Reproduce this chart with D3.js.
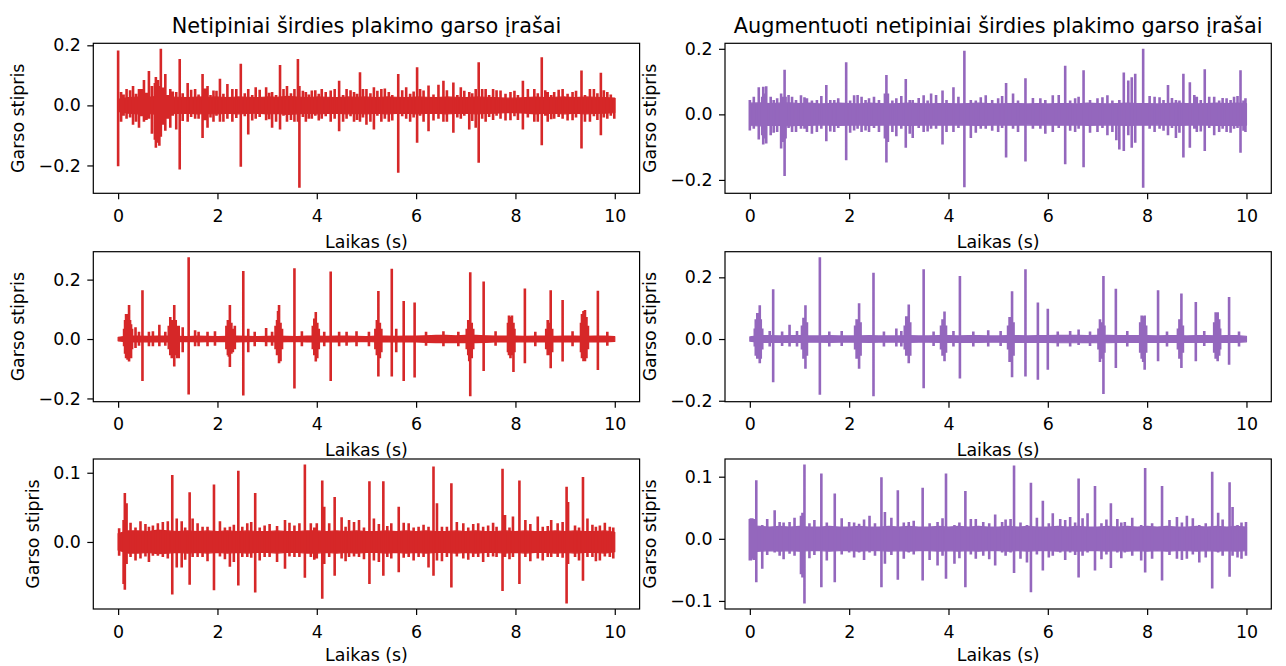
<!DOCTYPE html>
<html>
<head>
<meta charset="utf-8">
<script src="https://cdn.jsdelivr.net/npm/d3@7"></script>
<style>
  body { margin: 0; background: #fff; }
  svg { display: block; }
  text { font-family: "DejaVu Sans", sans-serif; fill: #000; }
</style>
</head>
<body>
<svg id="fig" width="1286" height="666"></svg>
<script>
// ---- Titles, labels, ticks ----
const titleLeft = "Netipiniai širdies plakimo garso įrašai";
const titleRight = "Augmentuoti netipiniai širdies plakimo garso įrašai";
const xLabel = "Laikas (s)";
const yLabel = "Garso stipris";
const xTicks = [0, 2, 4, 6, 8, 10];
const yTicksA = [-0.2, 0.0, 0.2];
const yTicksB = [-0.2, 0.0, 0.2];
const yTicksC = [-0.2, 0.0, 0.2];
const yTicksD = [-0.2, 0.0, 0.2];
const yTicksE = [0.0, 0.1];
const yTicksF = [-0.1, 0.0, 0.1];

// ---- Background noise envelope (amplitude every 0.2 s, 0..10 s) ----
const bandStep = 0.2;
const bandA = [.02,.026,.028,.027,.03,.028,.027,.026,.028,.027, .028,.026,.028,.027,.026,.028,.027,.03,.028,.026,
  .028,.027,.026,.028,.027,.028,.026,.028,.027,.026, .028,.027,.026,.028,.027,.026,.028,.027,.026,.024,
  .024,.026,.028,.026,.027,.028,.026,.028,.027,.026, .024];
const bandB = [.034,.035,.033,.034,.035,.033,.034,.032,.033,.034, .033,.032,.034,.033,.032,.033,.034,.033,.032,.033,
  .033,.032,.033,.034,.033,.032,.033,.033,.032,.033, .032,.033,.033,.032,.034,.033,.032,.033,.034,.033,
  .033,.032,.033,.034,.033,.032,.033,.034,.033,.034, .033];
const bandC = [.006,.01,.01,.009,.01,.01,.009,.008,.01,.009, .008,.009,.01,.009,.008,.009,.01,.009,.008,.01,
  .01,.009,.01,.01,.009,.008,.01,.01,.009,.01, .01,.011,.012,.012,.011,.012,.012,.011,.01,.01,
  .01,.009,.01,.01,.009,.01,.01,.009,.01,.01, .008];
const bandD = [.007,.011,.011,.01,.011,.011,.01,.01,.011,.01, .01,.01,.011,.01,.01,.01,.011,.01,.01,.011,
  .011,.01,.011,.011,.01,.01,.011,.011,.01,.011, .011,.012,.012,.012,.011,.012,.012,.011,.011,.011,
  .011,.01,.011,.011,.01,.011,.011,.01,.011,.011, .009];
const bandE = [.012,.016,.016,.015,.017,.016,.015,.016,.015,.016, .015,.016,.015,.016,.015,.015,.016,.015,.015,.016,
  .016,.015,.016,.015,.016,.015,.015,.016,.015,.016, .015,.016,.015,.015,.016,.015,.016,.015,.015,.016,
  .015,.016,.015,.015,.016,.015,.016,.015,.015,.016, .014];
const bandF = [.021,.02,.019,.02,.019,.02,.019,.019,.02,.019, .019,.02,.019,.019,.02,.019,.02,.019,.019,.02,
  .019,.02,.019,.02,.019,.019,.02,.019,.02,.019, .019,.02,.019,.02,.019,.019,.02,.019,.02,.019,
  .02,.019,.02,.019,.019,.02,.019,.02,.019,.02, .019];

// ---- Peaks: [time (s), max, min] ----
const spikesA = [
  [0,.178,-.198],[0.06,.04,-.05],[0.17,.05,-.04],[0.30,.06,-.06],[0.42,.05,-.07],[0.52,.08,-.05],
  [0.62,.11,-.04],[0.68,.06,-.09],[0.74,.07,-.11],[0.76,.09,-.137],[0.78,.06,-.12],[0.80,.08,-.09],
  [0.83,.06,-.13],[0.86,.184,-.10],[0.95,.10,-.08],[1.05,.05,-.07],[1.17,.04,-.076],
  [1.24,.15,-.209],[1.40,.07,-.05],[1.55,.05,-.04],[1.70,.10,-.104],[1.80,.06,-.07],[1.92,.045,-.05],
  [2.05,.084,-.05],[2.20,.067,-.04],[2.30,.05,-.05],[2.47,.134,-.20],[2.62,.05,-.093],[2.77,.056,-.04],
  [2.98,.056,-.045],[3.10,.04,-.07],[3.26,.13,-.076],[3.40,.06,-.05],[3.55,.05,-.05],[3.62,.15,-.05],
  [3.65,.06,-.27],[3.78,.04,-.05],[3.90,.045,-.04],[4.10,.05,-.04],[4.28,.045,-.05],[4.45,.078,-.082],
  [4.60,.05,-.04],[4.75,.04,-.05],[4.87,.106,-.05],[5.00,.05,-.06],[5.15,.056,-.076],[5.30,.05,-.05],
  [5.45,.04,-.05],[5.64,.10,-.22],[5.80,.056,-.04],[6.02,.123,-.12],[6.15,.045,-.05],[6.25,.062,-.082],
  [6.45,.064,-.04],[6.55,.078,-.05],[6.75,.072,-.087],[6.90,.056,-.04],[7.07,.04,-.076],[7.20,.05,-.07],
  [7.26,.139,-.187],[7.40,.05,-.05],[7.55,.05,-.044],[7.70,.045,-.04],[7.90,.04,-.045],[8.15,.078,-.076],
  [8.38,.05,-.05],[8.53,.156,-.128],[8.65,.04,-.05],[8.78,.04,-.04],[8.95,.05,-.04],[9.15,.04,-.045],
  [9.33,.112,-.139],[9.50,.05,-.05],[9.72,.104,-.095],[9.85,.04,-.04],[9.99,.02,-.04],
  [0.11,.032,-.03],[0.24,.046,-.036],[0.36,.034,-.05],[0.47,.05,-.032],[0.57,.038,-.044],[0.90,.055,-.06],
  [1.00,.03,-.04],[1.10,.042,-.03],[1.30,.036,-.048],[1.47,.048,-.034],[1.62,.032,-.04],[1.75,.052,-.045],
  [1.86,.03,-.036],[1.98,.044,-.03],[2.12,.034,-.05],[2.38,.05,-.038],[2.55,.036,-.032],[2.70,.03,-.046],
  [2.85,.048,-.034],[3.04,.038,-.042],[3.18,.03,-.05],[3.33,.05,-.03],[3.48,.036,-.044],[3.72,.044,-.034],
  [3.84,.032,-.04],[3.97,.046,-.03],[4.04,.034,-.046],[4.18,.04,-.032],[4.36,.05,-.04],[4.53,.03,-.05],
  [4.68,.046,-.032],[4.81,.034,-.044],[4.93,.05,-.036],[5.08,.036,-.05],[5.22,.044,-.03],[5.37,.052,-.04],
  [5.52,.03,-.046],[5.72,.046,-.032],[5.88,.034,-.05],[5.95,.042,-.036],[6.08,.05,-.03],[6.35,.032,-.046],
  [6.62,.046,-.05],[6.83,.03,-.036],[6.97,.044,-.03],[7.13,.036,-.048],[7.33,.05,-.04],[7.47,.03,-.034],
  [7.62,.046,-.03],[7.80,.034,-.046],[7.98,.044,-.032],[8.05,.03,-.044],[8.25,.05,-.036],[8.45,.036,-.05],
  [8.60,.046,-.03],[8.72,.03,-.042],[8.87,.048,-.034],[9.05,.034,-.046],[9.22,.044,-.036],[9.40,.03,-.05],
  [9.58,.05,-.032],[9.65,.036,-.044],[9.78,.046,-.036],[9.92,.032,-.03]
];
const spikesB = [
  [0.0,.04,-.045],[0.18,.079,-.073],[0.25,.05,-.06],[0.27,.08,-.088],[0.30,.06,-.07],[0.33,.082,-.085],
  [0.42,.05,-.06],[0.55,.045,-.05],[0.63,.06,-.10],[0.66,.05,-.08],[0.70,.132,-.184],[0.72,.05,-.07],
  [0.85,.05,-.05],[1.03,.054,-.04],[1.15,.045,-.05],[1.35,.04,-.05],
  [1.54,.086,-.078],[1.70,.04,-.05],[1.94,.155,-.136],[2.10,.054,-.045],[2.25,.05,-.05],[2.40,.045,-.05],
  [2.60,.04,-.05],[2.72,.06,-.07],[2.75,.116,-.143],[2.78,.06,-.08],[2.95,.045,-.063],[3.14,.104,-.098],
  [3.28,.04,-.068],[3.50,.054,-.05],
  [3.65,.06,-.04],[3.88,.069,-.088],[4.10,.079,-.05],[4.32,.19,-.218],[4.45,.04,-.068],[4.75,.054,-.04],
  [5.00,.045,-.05],[5.16,.092,-.128],[5.30,.06,-.04],[5.55,.106,-.14],[5.85,.045,-.04],[6.10,.054,-.05],
  [6.35,.144,-.148],[6.55,.045,-.05],[6.72,.131,-.157],[7.00,.045,-.05],[7.20,.054,-.06],[7.38,.03,-.075],
  [7.44,.04,-.103],[7.53,.124,-.108],[7.62,.099,-.06],[7.69,.109,-.098],[7.76,.12,-.083],[7.92,.196,-.220],
  [8.15,.05,-.05],[8.25,.048,-.04],[8.42,.086,-.06],[8.58,.04,-.068],[8.73,.12,-.128],[8.86,.094,-.098],
  [9.00,.05,-.05],[9.16,.134,-.108],[9.35,.05,-.06],[9.60,.045,-.05],[9.75,.05,-.04],[9.88,.131,-.113],
  [9.98,.045,-.05],
  [0.08,.05,-.04],[0.48,.04,-.052],[0.78,.055,-.038],[0.93,.04,-.05],[1.10,.048,-.04],[1.25,.038,-.055],
  [1.44,.052,-.04],[1.62,.04,-.048],[1.78,.045,-.038],[2.02,.038,-.052],[2.17,.055,-.04],[2.33,.04,-.045],
  [2.50,.05,-.038],[2.87,.038,-.05],[3.05,.052,-.04],[3.22,.04,-.055],[3.40,.046,-.038],[3.58,.038,-.048],
  [3.75,.055,-.04],[3.96,.04,-.05],[4.20,.05,-.038],[4.55,.038,-.052],[4.65,.048,-.04],[4.88,.04,-.046],
  [5.08,.052,-.038],[5.40,.038,-.05],[5.70,.046,-.04],[5.95,.04,-.055],[6.22,.055,-.038],[6.45,.038,-.046],
  [6.62,.05,-.04],[6.85,.04,-.052],[7.10,.048,-.038],[7.30,.038,-.05],[8.05,.052,-.04],[8.33,.04,-.046],
  [8.50,.046,-.038],[8.65,.038,-.052],[8.95,.055,-.04],[9.08,.04,-.048],[9.25,.05,-.038],[9.45,.038,-.05],
  [9.52,.046,-.04],[9.68,.04,-.052],[9.82,.052,-.038],[9.94,.038,-.046]
];
const spikesC = [
  [0.12,.03,-.02],[0.14,.06,-.045],[0.16,.08,-.06],[0.17,.08,-.06],[0.19,.07,-.065],[0.22,.11,-.071],
  [0.24,.06,-.05],[0.26,.045,-.06],[0.28,.03,-.03],
  [0.35,.035,-.026],[0.49,.16,-.137],[0.62,.02,-.02],[0.83,.044,-.02],
  [1.02,.04,-.03],[1.05,.07,-.05],[1.08,.06,-.06],[1.10,.05,-.045],[1.13,.11,-.088],[1.16,.06,-.05],
  [1.19,.04,-.06],[1.22,.04,-.06],[1.30,.035,-.04],[1.42,.271,-.182],[1.55,.025,-.02],
  [1.80,.02,-.02],[2.18,.04,-.03],[2.21,.06,-.05],[2.23,.05,-.055],[2.25,.11,-.09],[2.28,.05,-.045],
  [2.31,.03,-.04],[2.35,.04,-.03],[2.52,.225,-.186],[2.62,.03,-.04],[2.98,.033,-.02],
  [3.17,.04,-.03],[3.20,.06,-.05],[3.22,.09,-.04],[3.24,.11,-.077],[3.27,.05,-.07],[3.30,.03,-.03],
  [3.55,.234,-.162],[3.92,.04,-.03],[3.95,.065,-.05],[3.98,.087,-.071],[4.01,.05,-.06],[4.04,.03,-.03],
  [4.28,.223,-.137],[4.45,.02,-.02],
  [5.18,.03,-.03],[5.21,.06,-.05],[5.24,.157,-.122],[5.27,.05,-.06],[5.30,.03,-.04],
  [5.51,.232,-.122],[5.60,.03,-.04],[5.75,.124,-.137],[5.97,.119,-.125],
  [7.02,.03,-.03],[7.05,.06,-.05],[7.07,.05,-.07],[7.09,.22,-.188],[7.12,.05,-.06],[7.15,.03,-.03],
  [7.36,.189,-.103],
  [7.85,.05,-.04],[7.87,.075,-.05],[7.90,.07,-.06],[7.93,.075,-.05],[7.96,.05,-.107],[7.98,.03,-.04],
  [8.19,.166,-.077],[8.62,.03,-.03],[8.65,.06,-.05],[8.68,.05,-.05],[8.71,.16,-.094],[8.74,.03,-.04],
  [8.95,.127,-.071],
  [9.32,.05,-.04],[9.34,.08,-.06],[9.37,.09,-.07],[9.40,.093,-.07],[9.43,.07,-.06],[9.46,.04,-.03],
  [9.66,.158,-.10],
  [0.42,.02,-.018],[0.70,.022,-.02],[0.95,.02,-.018],[1.62,.02,-.02],[1.95,.022,-.018],[2.75,.02,-.02],
  [3.10,.02,-.018],[3.70,.022,-.02],[4.15,.02,-.02],[4.60,.02,-.018],[4.80,.022,-.02],[5.05,.02,-.02],
  [6.20,.02,-.018],[6.55,.022,-.02],[6.85,.02,-.02],[7.60,.022,-.018],[8.40,.02,-.02],[9.15,.022,-.02],
  [9.85,.02,-.018]
];
const spikesD = [
  [0.10,.03,-.02],[0.12,.06,-.05],[0.15,.08,-.06],[0.17,.07,-.055],[0.2,.105,-.074],[0.22,.06,-.06],
  [0.25,.03,-.03],[0.47,.157,-.136],[0.8,.042,-.02],
  [1.05,.04,-.03],[1.08,.065,-.06],[1.12,.105,-.092],[1.15,.05,-.05],[1.41,.261,-.176],
  [2.12,.04,-.03],[2.15,.06,-.06],[2.2,.112,-.092],[2.23,.05,-.05],[2.49,.211,-.181],[2.95,.03,-.02],
  [3.12,.04,-.03],[3.15,.07,-.05],[3.2,.108,-.074],[3.23,.05,-.05],[3.5,.222,-.155],
  [3.85,.04,-.03],[3.88,.06,-.05],[3.92,.085,-.068],[3.95,.04,-.04],[4.23,.2,-.124],[4.8,.024,-.02],
  [5.20,.04,-.03],[5.23,.067,-.07],[5.28,.151,-.12],[5.31,.05,-.05],[5.55,.222,-.117],[5.80,.114,-.128],
  [6.0,.094,-.095],[6.62,.027,-.015],
  [7.02,.03,-.03],[7.05,.06,-.07],[7.08,.05,-.06],[7.12,.2,-.174],[7.14,.04,-.04],[7.37,.159,-.09],
  [7.86,.05,-.04],[7.89,.072,-.06],[7.92,.07,-.07],[7.95,.072,-.095],[7.98,.04,-.04],
  [8.22,.154,-.068],[8.62,.03,-.03],[8.65,.06,-.06],[8.69,.143,-.09],[8.72,.04,-.04],[8.98,.116,-.068],
  [9.35,.05,-.04],[9.38,.083,-.06],[9.42,.083,-.068],[9.45,.06,-.05],[9.47,.03,-.03],[9.65,.132,-.079],
  [0.40,.022,-.02],[0.65,.02,-.018],[0.95,.022,-.02],[1.60,.02,-.02],[1.85,.022,-.018],[2.70,.02,-.02],
  [3.05,.022,-.02],[3.70,.02,-.018],[4.10,.022,-.02],[4.50,.02,-.02],[5.05,.022,-.018],[6.20,.02,-.02],
  [6.45,.022,-.02],[6.85,.02,-.018],[7.60,.022,-.02],[8.40,.02,-.02],[9.15,.022,-.018],[9.85,.02,-.02]
];
const spikesE = [
  [0.02,.018,-.018],[0.11,.03,-.059],[0.135,.069,-.067],[0.17,.054,-.03],[0.45,.028,-.022],[0.70,.022,-.018],
  [0.80,.025,-.018],[1.00,.028,-.022],[1.09,.095,-.074],[1.18,.032,-.035],[1.28,.028,-.035],[1.44,.07,-.06],
  [1.50,.032,-.02],[1.70,.02,-.02],[1.93,.081,-.068],[2.25,.02,-.034],[2.42,.101,-.061],[2.60,.025,-.02],
  [2.76,.069,-.071],[2.95,.022,-.02],[3.36,.03,-.037],[3.55,.022,-.02],[3.65,.025,-.02],[3.76,.11,-.05],
  [3.88,.025,-.02],[4.00,.025,-.022],[4.11,.087,-.080],[4.15,.049,-.03],[4.36,.063,-.047],[4.50,.034,-.022],
  [4.65,.03,-.02],[4.85,.03,-.02],[5.06,.086,-.059],[5.15,.032,-.025],[5.34,.086,-.047],[5.50,.025,-.022],
  [5.65,.049,-.042],[5.85,.025,-.02],[6.05,.02,-.02],[6.25,.02,-.035],[6.35,.107,-.047],[6.42,.054,-.025],
  [6.62,.02,-.02],[6.71,.083,-.064],[6.95,.025,-.022],[7.15,.024,-.02],[7.45,.022,-.02],[7.62,.02,-.02],
  [7.74,.104,-.069],[7.79,.037,-.02],[7.95,.035,-.02],[8.08,.087,-.059],[8.20,.03,-.02],[8.45,.035,-.022],
  [8.55,.02,-.025],[8.72,.03,-.02],[8.85,.025,-.02],[9.03,.078,-.087],[9.06,.056,-.03],[9.20,.022,-.02],
  [9.36,.092,-.054],[9.45,.032,-.02],[9.70,.022,-.025],[9.90,.02,-.02],
  [0.25,.026,-.02],[0.35,.019,-.025],[0.55,.024,-.019],[0.62,.02,-.027],[0.90,.027,-.02],[1.35,.019,-.024],
  [1.60,.025,-.02],[1.80,.02,-.026],[2.05,.028,-.019],[2.15,.019,-.023],[2.33,.023,-.027],[2.50,.02,-.02],
  [2.68,.027,-.021],[2.85,.019,-.025],[3.05,.024,-.02],[3.20,.021,-.027],[3.45,.026,-.019],[3.95,.019,-.024],
  [4.25,.025,-.02],[4.58,.02,-.026],[4.75,.027,-.019],[4.95,.019,-.023],[5.25,.024,-.027],[5.42,.021,-.02],
  [5.75,.026,-.021],[5.95,.019,-.025],[6.15,.023,-.02],[6.52,.02,-.026],[6.82,.027,-.019],[7.05,.019,-.024],
  [7.25,.025,-.02],[7.35,.02,-.027],[7.55,.026,-.019],[7.88,.019,-.023],[8.30,.024,-.026],[8.65,.021,-.02],
  [8.95,.027,-.021],[9.28,.019,-.025],[9.55,.023,-.02],[9.62,.02,-.026],[9.80,.026,-.019],[9.97,.019,-.022]
];
const spikesF = [
  [0.0,.03,-.033],[0.02,.031,-.033],[0.05,.031,-.03],[0.08,.03,-.032],[0.13,.092,-.068],[0.25,.02,-.046],
  [0.50,.044,-.02],[0.60,.025,-.025],
  [0.80,.025,-.022],[1.03,.035,-.055],[1.06,.04,-.06],[1.10,.1175,-.102],[1.44,.103,-.076],[1.71,.071,-.068],
  [2.00,.025,-.02],
  [2.20,.022,-.02],[2.41,.035,-.02],[2.65,.097,-.076],[2.72,.041,-.038],[2.98,.076,-.064],[3.20,.025,-.02],
  [3.48,.08,-.065],[3.78,.025,-.041],[3.95,.103,-.062],[4.12,.02,-.038],[4.34,.075,-.076],[4.55,.03,-.03],
  [4.70,.025,-.025],[4.94,.037,-.041],[5.08,.025,-.02],[5.25,.03,-.02],[5.32,.116,-.053],[5.58,.02,-.036],
  [5.66,.088,-.084],[5.90,.059,-.049],[6.10,.039,-.025],[6.25,.03,-.02],[6.45,.033,-.02],[6.62,.095,-.06],
  [6.80,.039,-.02],[6.95,.083,-.049],[7.27,.055,-.045],[7.40,.03,-.02],[7.55,.025,-.02],[7.88,.02,-.033],
  [7.96,.112,-.052],[8.30,.083,-.065],[8.60,.033,-.03],[8.80,.035,-.03],[9.05,.02,-.036],[9.31,.106,-.078],
  [9.43,.04,-.02],[9.66,.089,-.059],[9.72,.049,-.025],[9.82,.02,-.028],[9.99,.025,-.025],
  [0.35,.03,-.024],[0.68,.024,-.031],[0.90,.032,-.025],[1.20,.023,-.029],[1.30,.028,-.024],[1.55,.024,-.033],
  [1.85,.031,-.023],[2.10,.024,-.028],[2.30,.029,-.032],[2.52,.023,-.025],[2.85,.032,-.024],[3.10,.024,-.03],
  [3.30,.027,-.023],[3.62,.023,-.032],[3.88,.031,-.025],[4.22,.024,-.029],[4.45,.03,-.023],[4.82,.023,-.031],
  [5.15,.029,-.025],[5.45,.024,-.03],[5.78,.032,-.023],[6.02,.023,-.028],[6.35,.028,-.032],[6.55,.024,-.024],
  [6.70,.031,-.025],[7.08,.023,-.031],[7.18,.029,-.023],[7.48,.024,-.029],[7.70,.032,-.025],[8.10,.023,-.03],
  [8.45,.028,-.024],[8.70,.024,-.032],[8.92,.031,-.023],[9.18,.023,-.028],[9.52,.029,-.025],[9.90,.024,-.03]
];

const RED = "#d62728", PURPLE = "#9467bd";

const panels = [
  { col: 0, row: 0, band: bandA, spikes: spikesA, yTicks: yTicksA, color: RED },
  { col: 1, row: 0, band: bandB, spikes: spikesB, yTicks: yTicksB, color: PURPLE },
  { col: 0, row: 1, band: bandC, spikes: spikesC, yTicks: yTicksC, color: RED },
  { col: 1, row: 1, band: bandD, spikes: spikesD, yTicks: yTicksD, color: PURPLE },
  { col: 0, row: 2, band: bandE, spikes: spikesE, yTicks: yTicksE, color: RED },
  { col: 1, row: 2, band: bandF, spikes: spikesF, yTicks: yTicksF, color: PURPLE }
];

// ---- Layout ----
const FIG_H = 666;
const colLeft = [93.3, 725];
const axW = 546.3;
const rowTop = [43.3, 251.7, 459];
const axH = 150;
const TICK_FS = 17.4, LABEL_FS = 17.4, TITLE_FS = 20.8;
const LW = 2.6;

const svg = d3.select("#fig");

panels.forEach(p => {
  const left = colLeft[p.col], top = rowTop[p.row];
  const g = svg.append("g").attr("transform", `translate(${left},${top})`);

  const x = d3.scaleLinear().domain([-0.5, 10.5]).range([0, axW]);

  // y-range spans the data with a 5% margin on both sides
  const vals = [];
  p.band.forEach(a => { vals.push(a, -a); });
  p.spikes.forEach(s => { vals.push(s[1], s[2]); });
  const [mn, mx] = d3.extent(vals);
  const pad = (mx - mn) * 0.05;
  const y = d3.scaleLinear().domain([mn - pad, mx + pad]).range([axH, 0]);

  // background noise envelope
  const area = d3.area()
    .x((d, i) => x(i * bandStep))
    .y0(d => y(-d))
    .y1(d => y(d));
  g.append("path")
    .datum(p.band)
    .attr("d", area)
    .attr("fill", p.color)
    .attr("stroke", p.color)
    .attr("stroke-width", 1.2)
    .attr("stroke-linejoin", "round");

  // peaks, each drawn as a vertical stroke between its min and max
  const sorted = p.spikes.slice().sort((a, b) => a[0] - b[0]);
  g.append("path")
    .attr("d", sorted.map(d => `M${x(d[0])},${y(d[1])}V${y(d[2])}`).join(""))
    .attr("stroke", p.color)
    .attr("stroke-width", LW)
    .attr("stroke-linecap", "square")
    .attr("fill", "none");

  // axes
  const xAxis = g.append("g")
    .attr("transform", `translate(0,${axH})`)
    .call(d3.axisBottom(x).tickValues(xTicks).tickFormat(d3.format("d")).tickSize(6).tickPadding(10.3));
  const yAxis = g.append("g")
    .call(d3.axisLeft(y).tickValues(p.yTicks).tickFormat(d3.format(".1f")).tickSize(6).tickPadding(6.5));
  [xAxis, yAxis].forEach(a => {
    a.select(".domain").remove();
    a.selectAll("line").attr("stroke", "#000").attr("stroke-width", 1.2);
    a.selectAll("text").attr("font-size", TICK_FS).attr("font-family", "DejaVu Sans").attr("fill", "#000");
  });

  // frame
  g.append("rect")
    .attr("x", 0).attr("y", 0).attr("width", axW).attr("height", axH)
    .attr("fill", "none").attr("stroke", "#000").attr("stroke-width", 1.2);

  // x label (kept inside the figure on the last row)
  const xlBase = Math.min(axH + 54.5, FIG_H - top - 5);
  g.append("text")
    .attr("x", axW / 2).attr("y", xlBase)
    .attr("text-anchor", "middle")
    .attr("font-size", LABEL_FS)
    .text(xLabel);

  // y label, placed just outside the tick labels
  let minX = Infinity;
  yAxis.selectAll("text").each(function () {
    const b = this.getBBox();
    const ctm = this.getCTM();
    const gx = ctm.e - left + b.x;
    if (gx < minX) minX = gx;
  });
  const xb = minX - 14.5;
  g.append("text")
    .attr("transform", `translate(${xb},${axH / 2}) rotate(-90)`)
    .attr("text-anchor", "middle")
    .attr("font-size", LABEL_FS)
    .text(yLabel);

  // column titles on the top row
  if (p.row === 0) {
    g.append("text")
      .attr("x", axW / 2).attr("y", -10.3)
      .attr("text-anchor", "middle")
      .attr("font-size", TITLE_FS)
      .text(p.col === 0 ? titleLeft : titleRight);
  }
});
</script>
</body>
</html>
